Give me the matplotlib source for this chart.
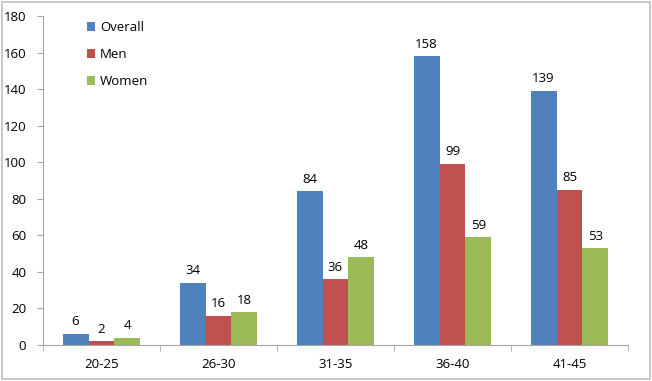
import numpy as np
import matplotlib
matplotlib.use("Agg")
import matplotlib.pyplot as plt
from matplotlib.patches import Rectangle

# data
groups = ["20-25", "26-30", "31-35", "36-40", "41-45"]
overall = [6, 34, 84, 158, 139]
men = [2, 16, 36, 99, 85]
women = [4, 18, 48, 59, 53]
series_names = ["Overall", "Men", "Women"]
colors = ["#4F81BD", "#C0504D", "#9BBB59"]

plt.rcParams["font.family"] = ["Open Sans", "DejaVu Sans"]

fig = plt.figure(figsize=(6.52, 3.81), dpi=100)
ax = fig.add_axes([43 / 652, 1 - 345 / 381, (628 - 43) / 652, (345 - 16) / 381])

x = np.arange(len(groups))
w = 0.222
for i, (vals, name, c) in enumerate(zip([overall, men, women], series_names, colors)):
    pos = x + (i - 1) * w
    bars = ax.bar(pos, vals, width=w, color=c, label=name, zorder=2)
    for b, v in zip(bars, vals):
        ax.annotate(str(v), (b.get_x() + b.get_width() / 2, v), xytext=(0, 4),
                    textcoords="offset points", ha="center", va="bottom", fontsize=9.5)

ax.set_xlim(-0.5, len(groups) - 0.5)
ax.set_ylim(0, 180)
ax.set_yticks(range(0, 181, 20))
ax.set_xticks(x)
ax.set_xticklabels(groups)
ax.set_xticks(np.arange(-0.5, len(groups)), minor=True)
ax.tick_params(axis="x", which="major", length=0, pad=9, labelsize=9.5)
ax.tick_params(axis="x", which="minor", length=4, color="#A6A6A6")
ax.tick_params(axis="y", length=4, color="#A6A6A6", labelsize=9.5, pad=8)

for s in ["top", "right"]:
    ax.spines[s].set_visible(False)
for s in ["left", "bottom"]:
    ax.spines[s].set_color("#A6A6A6")

leg = ax.legend(loc="upper left", bbox_to_anchor=(0.055, 1.02), frameon=False,
                fontsize=9.5, handlelength=0.6, handleheight=0.6, handletextpad=0.4,
                labelspacing=1.05)

# chart border
fig.patches.append(Rectangle((0.003, 0.004), 0.994, 0.992, transform=fig.transFigure,
                             fill=False, edgecolor="#BFBFBF", linewidth=1.2))

fig.savefig("out.png", dpi=100)
